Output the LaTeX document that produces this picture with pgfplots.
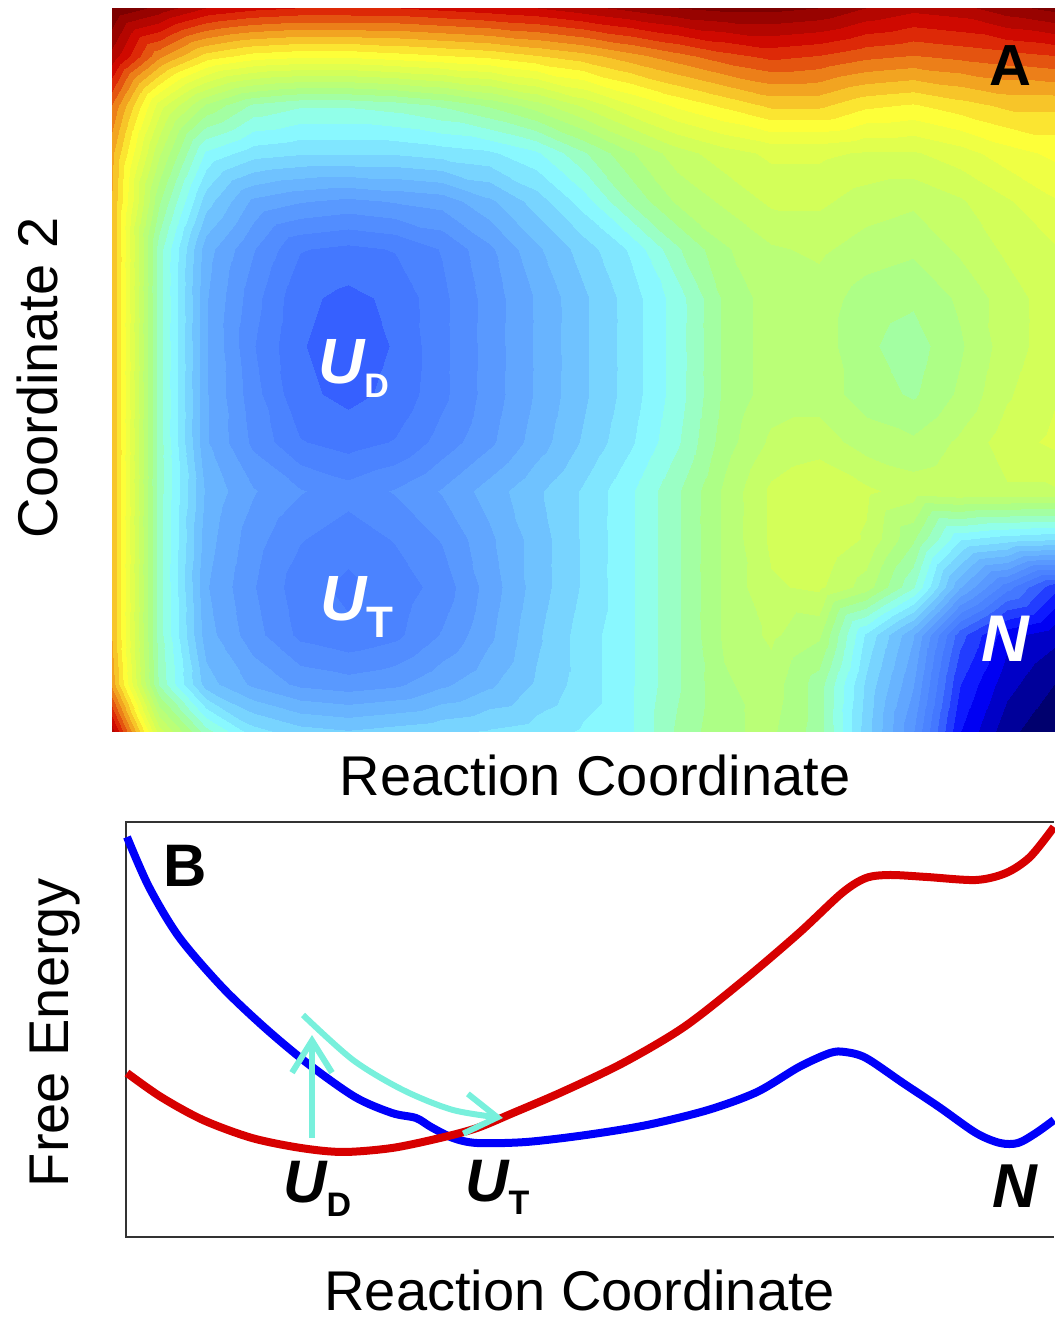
\documentclass[border=0pt]{standalone}
\usepackage{pgfplots}
\pgfplotsset{compat=1.18}
\usepackage{fontspec}
\setmainfont{Liberation Sans}
\usetikzlibrary{arrows.meta}
\definecolor{cy}{RGB}{120,240,220}
\definecolor{cblue}{RGB}{0,0,250}
\definecolor{cred}{RGB}{215,0,0}
\pgfplotsset{colormap={land}{rgb255(0pt)=(0,0,110) rgb255(1pt)=(0,0,255) rgb255(2pt)=(65,115,255) rgb255(3pt)=(88,150,255) rgb255(4pt)=(112,195,255) rgb255(5pt)=(140,255,255) rgb255(6pt)=(168,255,140) rgb255(7pt)=(210,255,90) rgb255(8pt)=(255,255,55) rgb255(9pt)=(240,150,30) rgb255(10pt)=(215,10,0) rgb255(11pt)=(125,0,0)}}
\begin{document}
\begin{tikzpicture}
\useasboundingbox (0,0) rectangle (527pt,660.5pt);
\begin{axis}[at={(56pt,294.5pt)}, anchor=south west, scale only axis,
  width=471pt, height=362pt, xmin=0, xmax=20, ymin=0, ymax=15,
  view={0}{90}, axis line style={draw=none}, ticks=none, clip=false,
  colormap name=land, point meta min=0, point meta max=11,
  xlabel={Reaction Coordinate}, ylabel={Coordinate 2},
  xlabel style={at={(axis description cs:0.513,-0.0594)}, anchor=center, font=\fontsize{28}{34}\selectfont},
  ylabel style={at={(axis description cs:-0.0786,0.489)}, anchor=center, font=\fontsize{28}{34}\selectfont}]
\addplot3[contour filled={number=37}, mesh/rows=16, mesh/cols=21] coordinates {
(0,15,11) (1,15,10.6) (2,15,10.1) (3,15,9.9) (4,15,9.8) (5,15,9.8) (6,15,9.8) (7,15,9.9) (8,15,10.0) (9,15,10.1) (10,15,10.3) (11,15,10.5) (12,15,10.7) (13,15,10.8) (14,15,10.8) (15,15,10.7) (16,15,10.4) (17,15,10.2) (18,15,10.3) (19,15,10.6) (20,15,10.8)
(0,14,10.3) (1,14,9.0) (2,14,8.2) (3,14,7.9) (4,14,7.8) (5,14,7.8) (6,14,7.9) (7,14,8.0) (8,14,8.1) (9,14,8.3) (10,14,8.5) (11,14,8.8) (12,14,9.1) (13,14,9.4) (14,14,9.6) (15,14,9.5) (16,14,9.3) (17,14,9.2) (18,14,9.3) (19,14,9.4) (20,14,9.5)
(0,13,9.2) (1,13,7.3) (2,13,6.2) (3,13,5.6) (4,13,5.4) (5,13,5.4) (6,13,5.5) (7,13,5.7) (8,13,6.0) (9,13,6.4) (10,13,6.9) (11,13,7.4) (12,13,7.8) (13,13,8.1) (14,13,8.4) (15,13,8.4) (16,13,8.1) (17,13,8.0) (18,13,8.2) (19,13,8.4) (20,13,8.4)
(0,12,8.7) (1,12,6.6) (2,12,5.0) (3,12,4.6) (4,12,4.5) (5,12,4.5) (6,12,4.5) (7,12,4.6) (8,12,4.7) (9,12,5.0) (10,12,5.6) (11,12,6.2) (12,12,6.7) (13,12,7.0) (14,12,7.2) (15,12,7.2) (16,12,7.1) (17,12,7.1) (18,12,7.3) (19,12,7.6) (20,12,7.8)
(0,11,8.6) (1,11,6.0) (2,11,4.3) (3,11,3.5) (4,11,3.3) (5,11,3.2) (6,11,3.3) (7,11,3.4) (8,11,3.8) (9,11,4.3) (10,11,4.9) (11,11,5.7) (12,11,6.3) (13,11,6.6) (14,11,6.9) (15,11,6.9) (16,11,6.7) (17,11,6.6) (18,11,6.8) (19,11,7.1) (20,11,7.4)
(0,10,8.6) (1,10,5.5) (2,10,3.7) (3,10,3.0) (4,10,2.4) (5,10,2.3) (6,10,2.4) (7,10,2.7) (8,10,3.2) (9,10,3.8) (10,10,4.3) (11,10,4.8) (12,10,5.6) (13,10,6.2) (14,10,6.5) (15,10,6.6) (16,10,6.4) (17,10,6.3) (18,10,6.6) (19,10,6.9) (20,10,7.1)
(0,9,8.6) (1,9,5.5) (2,9,3.6) (3,9,2.8) (4,9,2.15) (5,9,2.0) (6,9,2.15) (7,9,2.6) (8,9,3.1) (9,9,3.6) (10,9,4.1) (11,9,4.6) (12,9,5.2) (13,9,6.0) (14,9,6.4) (15,9,6.4) (16,9,6.1) (17,9,6.0) (18,9,6.3) (19,9,6.7) (20,9,7.0)
(0,8,8.6) (1,8,5.5) (2,8,3.6) (3,8,2.7) (4,8,2.1) (5,8,1.95) (6,8,2.1) (7,8,2.6) (8,8,3.1) (9,8,3.6) (10,8,4.1) (11,8,4.6) (12,8,5.2) (13,8,6.0) (14,8,6.4) (15,8,6.4) (16,8,6.0) (17,8,5.8) (18,8,6.2) (19,8,6.7) (20,8,7.0)
(0,7,8.6) (1,7,5.5) (2,7,3.6) (3,7,2.8) (4,7,2.15) (5,7,2.0) (6,7,2.15) (7,7,2.6) (8,7,3.1) (9,7,3.6) (10,7,4.1) (11,7,4.6) (12,7,5.2) (13,7,6.0) (14,7,6.4) (15,7,6.4) (16,7,6.1) (17,7,5.9) (18,7,6.3) (19,7,6.8) (20,7,7.1)
(0,6,8.6) (1,6,5.5) (2,6,3.6) (3,6,2.9) (4,6,2.4) (5,6,2.25) (6,6,2.4) (7,6,2.8) (8,6,3.2) (9,6,3.7) (10,6,4.2) (11,6,4.7) (12,6,5.3) (13,6,6.1) (14,6,6.6) (15,6,6.7) (16,6,6.4) (17,6,6.3) (18,6,6.6) (19,6,7.0) (20,6,7.2)
(0,5,8.6) (1,5,5.5) (2,5,3.8) (3,5,3.3) (4,5,3.0) (5,5,2.8) (6,5,3.0) (7,5,3.3) (8,5,3.7) (9,5,4.1) (10,5,4.5) (11,5,5.0) (12,5,5.6) (13,5,6.3) (14,5,6.9) (15,5,7.1) (16,5,6.9) (17,5,6.7) (18,5,6.8) (19,5,6.8) (20,5,6.8)
(0,4,8.6) (1,4,5.5) (2,4,3.7) (3,4,3.1) (4,4,2.7) (5,4,2.5) (6,4,2.7) (7,4,3.0) (8,4,3.5) (9,4,4.0) (10,4,4.5) (11,4,5.0) (12,4,5.6) (13,4,6.3) (14,4,6.9) (15,4,7.1) (16,4,6.8) (17,4,6.0) (18,4,4.8) (19,4,4.6) (20,4,4.5)
(0,3,8.6) (1,3,5.5) (2,3,3.6) (3,3,3.0) (4,3,2.5) (5,3,2.3) (6,3,2.5) (7,3,2.8) (8,3,3.4) (9,3,4.0) (10,3,4.5) (11,3,5.0) (12,3,5.6) (13,3,6.3) (14,3,6.8) (15,3,6.9) (16,3,6.4) (17,3,5.4) (18,3,3.6) (19,3,2.5) (20,3,1.6)
(0,2,8.6) (1,2,5.5) (2,2,3.7) (3,2,3.1) (4,2,2.6) (5,2,2.45) (6,2,2.6) (7,2,3.0) (8,2,3.5) (9,2,4.1) (10,2,4.6) (11,2,5.0) (12,2,5.6) (13,2,6.3) (14,2,6.6) (15,2,6.3) (16,2,4.7) (17,2,3.6) (18,2,1.9) (19,2,1.0) (20,2,0.7)
(0,1,8.8) (1,1,5.6) (2,1,4.0) (3,1,3.5) (4,1,3.2) (5,1,3.1) (6,1,3.2) (7,1,3.5) (8,1,3.8) (9,1,4.2) (10,1,4.6) (11,1,5.0) (12,1,5.6) (13,1,6.2) (14,1,6.4) (15,1,5.8) (16,1,4.4) (17,1,3.3) (18,1,1.5) (19,1,0.7) (20,1,0.3)
(0,0,10.3) (1,0,7.0) (2,0,5.5) (3,0,4.6) (4,0,4.3) (5,0,4.2) (6,0,4.3) (7,0,4.4) (8,0,4.5) (9,0,4.6) (10,0,4.8) (11,0,5.0) (12,0,5.7) (13,0,6.2) (14,0,6.3) (15,0,5.8) (16,0,4.3) (17,0,3.0) (18,0,1.2) (19,0,0.4) (20,0,0.0)
};
\node[anchor=base west, inner sep=0, text=white] at (axis cs:4.37,7.23) {\fontsize{32}{32}\selectfont\bfseries\itshape U\raisebox{-7pt}{\fontsize{17}{17}\selectfont\upshape D}};
\node[anchor=base west, inner sep=0, text=white] at (axis cs:4.42,2.32) {\fontsize{32}{32}\selectfont\bfseries\itshape U\raisebox{-8.5pt}{\fontsize{22}{22}\selectfont\upshape T}};
\node[anchor=center, inner sep=0, text=white] at (axis cs:18.96,1.93) {\fontsize{33}{33}\selectfont\bfseries\itshape N};
\node[anchor=center, inner sep=0, text=black] at (axis cs:19.07,13.8) {\fontsize{29}{29}\selectfont\bfseries A};
\end{axis}
\begin{axis}[at={(63pt,42pt)}, anchor=south west, scale only axis,
  width=464pt, height=207.5pt, xmin=126, xmax=1054, ymin=0, ymax=415,
  axis line style={draw=none}, ticks=none, clip=false,
  xlabel={Reaction Coordinate}, ylabel={Free Energy},
  xlabel style={at={(axis description cs:0.489,-0.129)}, anchor=center, font=\fontsize{28}{34}\selectfont},
  ylabel style={at={(axis description cs:-0.0765,0.4916)}, anchor=center, font=\fontsize{28}{34}\selectfont}]
\draw[line width=1.2pt, black!80] (axis cs:1054,415) -- (axis cs:126,415) -- (axis cs:126,0) -- (axis cs:1054,0);
\addplot[cblue, line width=4pt, smooth, line join=round] coordinates {
(127,400) (149,350) (179,300) (222,250) (264,210) (307,174) (355,140) (392,124) (416,119) (431,110) (453,99) (477,94) (526,95) (586,102) (647,112) (708,127) (757,145) (799,170) (830,184) (845,185) (866,179) (903,154) (939,130) (976,104) (1000,94) (1018,94) (1036,104) (1054,117)};
\addplot[cred, line width=4pt, smooth, line join=round] coordinates {
(127,164) (161,140) (203,117) (252,99) (301,89) (343,85) (392,89) (440,99) (477,109) (513,124) (562,145) (623,174) (684,210) (744,257) (799,304) (842,344) (866,359) (890,362) (927,360) (976,357) (1006,364) (1030,380) (1054,410)};
\addplot[cy, line width=3pt, -{Straight Barb[length=16pt,width=20pt]}] coordinates {(312,99) (312,202)};
\addplot[cy, line width=3pt, smooth, -{Straight Barb[length=16pt,width=20pt]}] coordinates {(303,222) (353,177) (403,147) (453,127) (503,119)};
\node[anchor=center, inner sep=0] at (axis cs:185,371) {\fontsize{30}{30}\selectfont\bfseries B};
\node[anchor=base west, inner sep=0] at (axis cs:283,34) {\fontsize{30}{30}\selectfont\bfseries\itshape U\raisebox{-7pt}{\fontsize{17}{17}\selectfont\upshape D}};
\node[anchor=base west, inner sep=0] at (axis cs:465,35) {\fontsize{30}{30}\selectfont\bfseries\itshape U\raisebox{-6.5pt}{\fontsize{17}{17}\selectfont\upshape T}};
\node[anchor=center, inner sep=0] at (axis cs:1015,51) {\fontsize{31}{31}\selectfont\bfseries\itshape N};
\end{axis}
\end{tikzpicture}
\end{document}
